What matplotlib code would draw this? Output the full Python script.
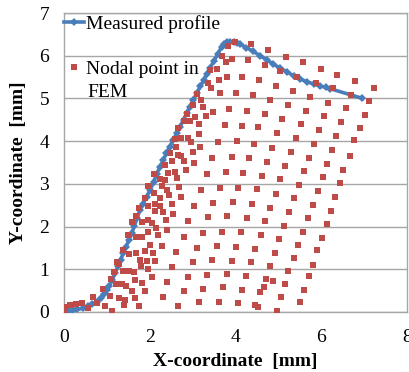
import matplotlib
matplotlib.use("Agg")
import matplotlib.pyplot as plt
from matplotlib.lines import Line2D

# ---------------- data ----------------
profile_x = [0.00, 0.10, 0.20, 0.30, 0.44, 0.55, 0.65, 0.75, 0.85, 0.92, 0.99, 1.05, 1.12, 1.18,
             1.25, 1.31, 1.37, 1.44, 1.50, 1.57, 1.63, 1.70, 1.76, 1.84, 1.92, 2.00, 2.08, 2.15,
             2.23, 2.31, 2.38, 2.46, 2.54, 2.62, 2.70, 2.78, 2.85, 2.93, 3.01, 3.09, 3.17, 3.25,
             3.32, 3.40, 3.49, 3.58, 3.67, 3.73, 3.79, 3.87, 3.95, 4.03, 4.10, 4.25, 4.41, 4.57,
             4.73, 4.88, 5.04, 5.20, 5.35, 5.50, 5.66, 5.82, 5.97, 6.10, 6.20, 6.96]
profile_y = [0.01, 0.02, 0.04, 0.06, 0.09, 0.13, 0.18, 0.24, 0.33, 0.42, 0.51, 0.62, 0.76, 0.91,
             1.07, 1.22, 1.37, 1.53, 1.68, 1.84, 2.02, 2.21, 2.39, 2.54, 2.70, 2.86, 3.04, 3.22,
             3.40, 3.56, 3.72, 3.87, 4.03, 4.19, 4.34, 4.50, 4.65, 4.81, 4.97, 5.12, 5.28, 5.42,
             5.57, 5.71, 5.88, 6.04, 6.21, 6.28, 6.33, 6.33, 6.33, 6.30, 6.27, 6.19, 6.10, 6.00,
             5.90, 5.80, 5.71, 5.62, 5.53, 5.46, 5.39, 5.34, 5.29, 5.26, 5.23, 5.00]

nodal_x = [
    3.98, 3.83, 4.35, 4.75, 5.17, 5.56, 5.99, 6.36, 6.79, 7.24,
    3.67, 3.91, 3.77, 4.28, 4.68, 5.04, 5.44, 5.87, 6.27, 6.69, 7.12,
    3.40, 3.57, 3.62, 3.79, 4.15, 4.54, 4.93, 5.33, 5.74, 6.16, 6.58, 7.01,
    3.35, 3.42, 3.63, 4.01, 4.41, 4.80, 5.21, 5.63, 6.07, 6.46, 6.90,
    3.09, 3.01, 3.19, 3.24, 3.46, 3.85, 4.26, 4.68, 5.09, 5.53, 5.95, 6.34, 6.77,
    2.85, 3.05, 3.31, 2.78, 2.92, 3.13, 3.75, 4.14, 4.53, 4.97, 5.41, 5.83, 6.24, 6.66,
    2.66, 3.15,
    4.02, 4.43, 4.85, 5.28, 5.71, 6.14, 6.51,
    3.91, 4.32, 4.74, 5.16, 5.60, 6.03, 6.44,
    4.18, 4.62, 5.04, 5.48, 5.92, 6.32,
    4.06, 4.49, 4.93, 5.36, 5.80, 6.23,
    3.93, 4.37, 4.81, 5.25, 5.68, 6.13,
    4.26, 4.69, 5.13, 5.56, 6.02,
    4.12, 4.58, 5.01,
    2.58, 2.72, 2.88, 2.96, 3.17, 3.59, 2.61, 2.47, 2.64, 2.72, 2.79, 2.99, 2.52, 3.03, 3.45,
    2.35, 2.41, 2.57, 2.84, 2.63, 2.10, 2.22, 2.35, 3.33, 3.77,
    1.96, 2.27, 2.39, 2.68, 3.18, 3.63,
    1.87, 2.08, 2.22, 2.44, 2.71,
    1.74, 1.94, 2.11, 2.23, 2.50, 3.03, 3.48,
    1.66, 2.11, 2.31, 2.54, 2.89, 3.35, 3.80,
    1.57, 1.80, 1.96, 2.05, 2.14, 2.36, 2.40, 2.78, 3.24, 3.69,
    1.49, 1.66, 1.80, 1.96, 2.18,
    2.00, 2.27, 1.37, 1.51, 1.67, 1.87, 2.06, 2.60,
    1.22, 1.27, 1.76, 1.92, 2.11, 1.79, 1.94,
    1.16, 1.37, 1.51, 1.63, 2.04, 1.65, 1.82, 2.40,
    1.09, 1.20, 1.34, 1.44, 1.58, 1.88, 0.91,
    1.06, 1.28, 1.41, 1.65, 2.29, 0.67,
    0.77, 0.95, 1.12, 1.40, 1.74, 0.56, 0.40, 0.26, 0.13, 0.01, 0.00,
    3.10, 3.57, 4.01, 4.46, 4.91, 5.46, 5.90,
    2.52, 2.99, 3.45, 3.91, 4.36, 4.79, 5.35, 5.80, 5.23,
    2.89, 3.34, 3.79, 4.24, 4.70, 4.86, 5.15, 5.72,
    2.78, 3.23, 3.70, 4.15, 4.65, 4.57, 5.05, 5.60,
    2.66, 3.13, 3.60, 4.05, 4.45, 4.51, 4.96, 5.50,
]
nodal_y = [
    6.32, 6.23, 6.27, 6.14, 5.98, 5.85, 5.69, 5.55, 5.41, 5.25,
    6.00, 5.93, 5.85, 5.89, 5.78, 5.65, 5.51, 5.37, 5.24, 5.08, 4.94,
    5.67, 5.68, 5.43, 5.51, 5.51, 5.43, 5.30, 5.18, 5.04, 4.90, 4.77, 4.61,
    5.36, 5.24, 5.12, 5.12, 5.08, 4.96, 4.85, 4.71, 4.58, 4.44, 4.30,
    5.10, 4.85, 4.96, 4.81, 4.69, 4.75, 4.71, 4.63, 4.52, 4.39, 4.26, 4.13, 4.03,
    4.63, 4.57, 4.59, 4.46, 4.47, 4.39, 4.38, 4.36, 4.34, 4.18, 4.08, 3.93, 3.79, 3.65,
    4.30, 4.16,
    4.00, 3.93, 3.85, 3.75, 3.61, 3.47, 3.33,
    3.62, 3.60, 3.52, 3.42, 3.30, 3.15, 3.01,
    3.26, 3.18, 3.11, 2.97, 2.83, 2.69,
    2.91, 2.87, 2.76, 2.67, 2.51, 2.37,
    2.57, 2.53, 2.44, 2.34, 2.21, 2.05,
    2.19, 2.12, 2.02, 1.88, 1.74,
    1.87, 1.80, 1.71,
    4.04, 4.08, 4.08, 3.97, 3.87, 3.99, 3.86, 3.72, 3.68, 3.66, 3.54, 3.74, 3.54, 3.48, 3.60,
    3.44, 3.26, 3.27, 3.33, 3.13, 3.22, 3.11, 3.09, 3.22, 3.27,
    2.94, 2.94, 2.86, 2.92, 2.86, 2.91,
    2.68, 2.79, 2.66, 2.74, 2.69,
    2.43, 2.47, 2.54, 2.49, 2.53, 2.49, 2.55,
    2.25, 2.37, 2.33, 2.30, 2.12, 2.22, 2.25,
    2.10, 2.10, 2.15, 2.08, 1.97, 2.15, 1.92, 1.76, 1.86, 1.88,
    1.80, 1.76, 1.76, 1.88, 1.80,
    1.57, 1.55, 1.45, 1.35, 1.37, 1.43, 1.39, 1.41,
    1.16, 1.12, 1.22, 1.19, 1.19, 1.08, 1.01,
    0.94, 0.97, 0.97, 0.93, 0.81, 0.75, 0.67, 0.71,
    0.77, 0.66, 0.66, 0.61, 0.48, 0.49, 0.55,
    0.38, 0.32, 0.28, 0.32, 0.36, 0.36,
    0.20, 0.15, 0.03, 0.16, 0.14, 0.09, 0.22, 0.19, 0.16, 0.11, 0.05,
    1.51, 1.55, 1.53, 1.48, 1.39, 1.58, 1.44,
    1.05, 1.16, 1.22, 1.20, 1.16, 1.08, 1.26, 1.11, 0.97,
    0.83, 0.87, 0.88, 0.85, 0.77, 0.73, 0.66, 0.85,
    0.49, 0.55, 0.58, 0.52, 0.59, 0.47, 0.35, 0.52,
    0.15, 0.23, 0.24, 0.21, 0.16, 0.12, 0.02, 0.23,
]

x_ticks = [0, 2, 4, 6, 8]
y_ticks = [0, 1, 2, 3, 4, 5, 6, 7]
label_profile = "Measured profile"
label_nodal_1 = "Nodal point in"
label_nodal_2 = "FEM"
x_label = "X-coordinate  [mm]"
y_label = "Y-coordinate  [mm]"

# ---------------- style ----------------
blue = "#4A7EBB"
red = "#BE4B48"
grey = "#A6A6A6"

plt.rcParams["font.family"] = ["Liberation Serif", "DejaVu Serif"]

fig = plt.figure(figsize=(4.1, 3.72), dpi=100)
ax = fig.add_axes([64.5 / 410, 60 / 372, 342.5 / 410, 299 / 372])

ax.plot(profile_x, profile_y, color=blue, lw=2.6, marker="D", ms=4.0,
        markeredgewidth=0, zorder=3)
ax.scatter(nodal_x, nodal_y, marker="s", s=18, color=red, linewidths=0, zorder=4)

ax.set_xlim(0, 8)
ax.set_ylim(0, 7)
ax.set_xticks(x_ticks)
ax.set_yticks(y_ticks)
ax.yaxis.grid(True, color=grey, lw=1.0)
ax.set_axisbelow(True)
for s in ax.spines.values():
    s.set_color(grey)
    s.set_linewidth(1.0)
ax.tick_params(length=0, labelsize=14)
ax.tick_params(axis="x", pad=12)
ax.tick_params(axis="y", pad=11)

ax.set_xlabel(x_label, fontsize=14, fontweight="bold", labelpad=5)
ax.set_ylabel(y_label, fontsize=14, fontweight="bold", labelpad=9)

handles = [
    Line2D([], [], color=blue, lw=2.6, marker="D", ms=4.0, markeredgewidth=0),
    Line2D([], [], ls="none", marker="s", ms=5.0, color=red, markeredgewidth=0),
]
leg = ax.legend(handles, [label_profile, label_nodal_1], loc="upper left",
                bbox_to_anchor=(0.0, 0.992), frameon=False, fontsize=14,
                handlelength=1.0, handletextpad=0.1, borderpad=0.0,
                borderaxespad=0.0, labelspacing=1.4)
ax.text(0.0665, 0.733, label_nodal_2, transform=ax.transAxes, fontsize=14,
        ha="left", va="center")

fig.savefig("out.png", dpi=100)
